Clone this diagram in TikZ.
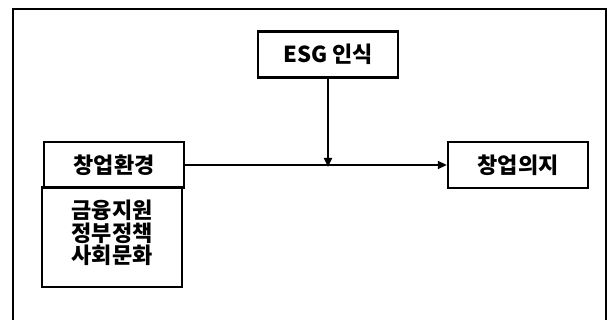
\documentclass[tikz,border=0pt]{standalone}
\usepackage{fontspec}
\newfontfamily\kr{Noto Sans CJK KR}
\usetikzlibrary{arrows.meta}

\begin{document}
\begin{tikzpicture}[x=1pt,y=1pt,>={Triangle[length=9pt,width=8pt]},
  main node/.style={draw,line width=2.4pt,minimum width=140pt,minimum height=46pt,
    font=\kr\bfseries\fontsize{22}{22.5}\selectfont},
  sub node/.style={draw,line width=1.2pt,minimum width=140pt,minimum height=100pt,
    align=center,font=\kr\bfseries\fontsize{22}{22.5}\selectfont}]

  \useasboundingbox (0,0) rectangle (611,-320);
  \clip (0,0) rectangle (611,-320);
  \draw[line width=2pt] (13,-340) rectangle (606,-9);

  \node[sub node]   (factor) at (112,-237) {금융지원\\정부정책\\사회문화\\[-12pt]};
  \node[main node]  (esg)    at (328,-54.5) {ESG 인식};
  \node[main node]  (env)    at (114,-165) {창업환경};
  \node[main node]  (intent) at (518,-165) {창업의지};

  \path[line width=1.8pt]
    (env) edge[->] (intent)
    (esg) edge[->,shorten >=-2pt] (esg |- env);

\end{tikzpicture}
\end{document}
